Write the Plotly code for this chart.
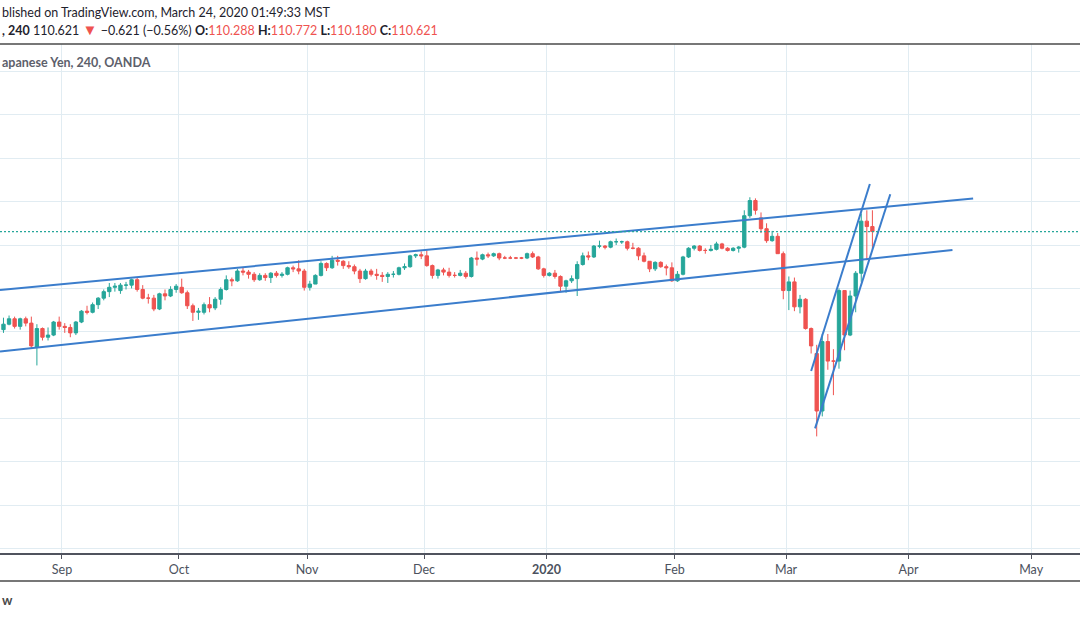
import pandas as pd
import plotly.graph_objects as go

# ---------------- data (USD/JPY, daily OHLC) ----------------
days = pd.bdate_range("2019-08-16", "2020-03-23")

open_ = [
    # Aug
    106.10,106.35,106.60,106.25,106.60,106.40,105.30,106.15,105.75,105.85,106.45,
    # Sep
    106.25,106.20,105.95,106.45,106.95,106.90,107.25,107.55,107.85,108.05,107.90,108.15,108.15,108.40,107.95,107.55,107.55,107.05,107.75,107.65,107.95,
    # Oct
    108.05,107.80,107.20,106.90,106.90,107.25,107.10,107.50,107.95,108.40,108.35,108.80,108.75,108.65,108.40,108.60,108.50,108.70,108.60,108.65,108.95,108.90,108.80,
    # Nov
    108.05,108.20,108.60,109.15,108.95,109.30,109.25,109.05,109.00,108.80,108.45,108.80,108.65,108.60,108.55,108.65,108.65,108.95,109.00,109.50,109.55,
    # Dec
    109.50,109.05,108.60,108.85,108.75,108.60,108.60,108.70,108.55,109.40,109.35,109.55,109.50,109.60,109.40,109.40,109.40,109.40,109.40,109.60,109.45,108.90,
    # Jan
    108.60,108.70,108.55,108.10,108.35,108.45,109.10,109.50,109.45,109.95,109.95,109.90,110.15,110.15,110.15,109.85,109.85,109.50,109.25,108.90,109.20,109.00,108.95,
    # Feb
    108.35,108.65,109.45,109.85,109.95,109.75,109.75,109.80,110.05,109.85,109.75,109.85,109.90,111.35,112.05,111.25,110.75,110.20,110.40,109.60,
    # Mar
    107.90,108.30,107.15,107.50,106.15,105.00,102.35,105.55,104.65,104.65,107.90,105.85,107.65,108.70,111.10,110.85,
]
high = [
    106.65,106.75,106.70,106.65,106.70,106.70,106.35,106.20,106.20,106.50,106.70,
    106.40,106.35,106.50,107.00,107.20,107.35,107.60,107.95,108.25,108.25,108.25,108.30,108.45,108.50,108.15,107.75,107.70,107.80,107.95,108.10,108.20,
    108.45,107.90,107.30,107.10,107.35,107.60,107.60,108.05,108.60,108.50,108.90,108.95,108.85,108.75,108.70,108.70,108.75,108.80,108.75,109.00,109.05,109.30,108.90,
    108.35,108.65,109.25,109.20,109.50,109.50,109.30,109.25,109.10,108.90,108.90,108.90,108.90,108.75,108.75,108.80,109.00,109.15,109.55,109.60,109.70,
    109.75,109.10,108.90,108.95,108.95,108.75,108.85,108.80,109.45,109.70,109.60,109.65,109.65,109.65,109.50,109.50,109.45,109.45,109.65,109.70,109.50,108.95,
    108.75,108.85,108.60,108.40,108.60,109.25,109.65,109.70,110.00,110.20,110.00,110.20,110.30,110.20,110.20,110.10,109.90,109.65,109.25,109.25,109.25,109.10,109.20,
    108.80,109.50,109.90,110.00,110.00,109.85,110.00,110.15,110.10,109.90,109.90,109.95,111.60,112.20,112.15,111.50,111.00,110.65,110.55,109.70,
    108.55,108.50,107.70,107.55,106.20,105.40,105.90,105.90,105.20,108.00,107.90,107.90,108.80,111.45,111.60,111.60,
]
low = [
    105.95,106.30,106.15,106.10,106.25,105.25,104.45,105.60,105.60,105.80,106.10,
    105.95,105.75,105.85,106.40,106.80,106.85,107.05,107.45,107.60,107.85,107.75,107.95,108.00,107.85,107.50,107.30,106.95,107.00,107.45,107.60,107.80,
    107.75,107.05,106.50,106.55,106.80,106.90,107.00,107.25,107.90,108.10,108.30,108.60,108.45,108.30,108.35,108.35,108.25,108.50,108.50,108.60,108.75,108.65,107.90,
    107.90,108.20,108.55,108.80,108.90,109.05,108.90,108.90,108.65,108.25,108.40,108.55,108.40,108.30,108.25,108.50,108.60,108.85,108.95,109.40,109.35,
    109.00,108.45,108.45,108.60,108.50,108.50,108.55,108.45,108.50,109.05,109.30,109.40,109.45,109.30,109.35,109.35,109.35,109.35,109.35,109.40,108.85,108.50,
    108.55,108.45,107.85,107.80,108.25,107.65,109.05,109.30,109.40,109.85,109.80,109.85,110.00,110.05,109.75,109.80,109.30,109.20,108.75,108.80,108.95,108.60,108.30,
    108.30,108.60,109.40,109.75,109.70,109.60,109.70,109.75,109.80,109.70,109.70,109.65,109.85,111.25,111.40,110.55,110.10,110.15,109.60,107.50,
    107.00,106.95,106.85,106.10,105.00,101.18,102.10,104.25,103.08,104.30,105.15,105.80,106.90,108.30,109.30,109.75,
]
close = [
    106.35,106.60,106.25,106.60,106.40,105.35,106.15,105.75,105.85,106.45,106.25,
    106.20,105.95,106.45,106.95,106.90,107.25,107.55,107.85,108.05,108.10,108.15,108.15,108.40,107.95,107.55,107.55,107.05,107.75,107.65,107.95,108.10,
    107.80,107.20,106.90,106.95,107.25,107.10,107.50,107.95,108.40,108.35,108.80,108.75,108.65,108.40,108.60,108.50,108.70,108.60,108.65,108.95,108.90,108.80,108.05,
    108.20,108.60,109.15,108.95,109.30,109.25,109.05,109.00,108.80,108.45,108.80,108.65,108.60,108.55,108.65,108.65,108.95,109.00,109.50,109.55,109.50,
    109.05,108.60,108.85,108.75,108.60,108.60,108.70,108.55,109.40,109.35,109.55,109.50,109.60,109.40,109.40,109.40,109.40,109.40,109.60,109.45,108.90,108.60,
    108.70,108.55,108.10,108.35,108.45,109.10,109.50,109.45,109.95,109.95,109.90,110.15,110.15,110.15,109.85,109.85,109.50,109.25,108.90,109.20,109.00,108.95,108.35,
    108.65,109.45,109.85,109.95,109.75,109.75,109.80,110.05,109.85,109.75,109.85,109.90,111.35,112.05,111.60,110.75,110.20,110.40,109.60,107.90,
    108.30,107.15,107.50,106.15,105.35,102.35,105.55,104.65,104.65,107.90,105.85,107.65,108.70,111.10,110.85,110.62,
]

# drawn trend lines (date, price)
upper_x = ["2019-08-15 21:00", "2020-04-16 14:00"]
upper_y = [107.93, 112.14]
lower_x = ["2019-08-15 21:00", "2020-04-10 21:00"]
lower_y = [105.09, 109.77]
wedge_a_x = ["2020-03-06 12:00", "2020-03-23 01:00"]
wedge_a_y = [104.19, 112.81]
wedge_b_x = ["2020-03-09 05:00", "2020-03-26 17:00"]
wedge_b_y = [101.55, 112.34]

month_ticks = ["2019-09-02", "2019-10-01", "2019-11-01", "2019-12-02", "2020-01-01",
               "2020-02-03", "2020-03-02", "2020-04-01", "2020-05-01"]
month_labels = ["Sep", "Oct", "Nov", "Dec", "<b>2020</b>", "Feb", "Mar", "Apr", "May"]

header_1 = "blished on TradingView.com, March 24, 2020 01:49:33 MST"
symbol_tail = ", 240"
last_price = "110.621"
change = "\u22120.621 (\u22120.56%)"
ohlc_labels = ["O:", "H:", "L:", "C:"]
ohlc_values = ["110.288", "110.772", "110.180", "110.621"]
pane_title = "apanese Yen, 240, OANDA"

assert len(days) == len(open_) == len(high) == len(low) == len(close)

# ---------------- styling ----------------
UP = "#26a69a"
DOWN = "#ef5350"
LINE_BLUE = "#3b7dcc"
GRID = "#e1ecf2"
DARK = "#50535e"
FONT = "Lato"

x_days = days + pd.Timedelta(hours=12)

fig = go.Figure()
fig.add_trace(go.Candlestick(
    x=x_days, open=open_, high=high, low=low, close=close,
    increasing=dict(line=dict(color=UP, width=1), fillcolor=UP),
    decreasing=dict(line=dict(color=DOWN, width=1), fillcolor=DOWN),
    whiskerwidth=0, showlegend=False, hoverinfo="skip",
))
for lx, ly in [(upper_x, upper_y), (lower_x, lower_y), (wedge_a_x, wedge_a_y), (wedge_b_x, wedge_b_y)]:
    fig.add_trace(go.Scatter(x=lx, y=ly, mode="lines", line=dict(color=LINE_BLUE, width=2),
                             showlegend=False, hoverinfo="skip"))

# current price dotted line
fig.add_shape(type="line", xref="paper", x0=0, x1=1, yref="y", y0=close[-1], y1=close[-1],
              line=dict(color=UP, width=1.3, dash="2px,2px"))
# top separator & bottom border
fig.add_shape(type="line", xref="paper", x0=0, x1=1, yref="paper", y0=1, y1=1,
              line=dict(color="#4a4a4a", width=1.5))
fig.add_shape(type="line", xref="paper", x0=0, x1=1, yref="paper", y0=-0.055, y1=-0.055,
              line=dict(color="#4a4a4a", width=1.5))

line2 = (f"<b>{symbol_tail}</b> {last_price} <span style='color:{DOWN};font-size:15px'>\u25bc</span> {change} "
         + " ".join(f"<b>{l}</b><span style='color:{DOWN}'>{v}</span>"
                    for l, v in zip(ohlc_labels, ohlc_values)))

fig.add_annotation(text=header_1, xref="paper", yref="paper", x=0, y=1.062,
                   xanchor="left", yanchor="middle", showarrow=False,
                   font=dict(family=FONT, size=12.5, color="#1e222d"))
fig.add_annotation(text=line2, xref="paper", yref="paper", x=0, y=1.029,
                   xanchor="left", yanchor="middle", showarrow=False,
                   font=dict(family=FONT, size=12.5, color="#1e222d"))
fig.add_annotation(text=f"<b>{pane_title}</b>", xref="paper", yref="paper", x=0, y=0.9646,
                   xanchor="left", yanchor="middle", showarrow=False,
                   font=dict(family=FONT, size=12.5, color="#5d606b"))
fig.add_annotation(text="<b>w</b>", xref="paper", yref="paper", x=0, y=-0.0923,
                   xanchor="left", yanchor="middle", showarrow=False,
                   font=dict(family=FONT, size=13, color="#4a4a4a"))

fig.update_layout(
    width=1080, height=618,
    margin=dict(l=0, r=0, t=44, b=65),
    paper_bgcolor="white", plot_bgcolor="white",
    boxgap=0.15,
    showlegend=False,
    xaxis=dict(
        type="date",
        range=["2019-08-15 21:00", "2020-05-13 18:30"],
        rangebreaks=[dict(bounds=["sat", "mon"])],
        rangeslider=dict(visible=False),
        tickmode="array", tickvals=month_ticks, ticktext=month_labels,
        showgrid=True, gridcolor=GRID, gridwidth=1,
        showline=True, linecolor=DARK, linewidth=1.5,
        ticks="outside", ticklen=4, tickcolor=DARK, tickwidth=1,
        tickfont=dict(family=FONT, size=12.5, color="#4c525e"),
        zeroline=False, fixedrange=True,
    ),
    yaxis=dict(
        range=[95.806, 119.263], tick0=0, dtick=2,
        showgrid=True, gridcolor=GRID, gridwidth=1,
        showticklabels=False, zeroline=False, showline=False, fixedrange=True,
    ),
)

fig.write_html("out.html", config={"displayModeBar": False},
               post_script="document.body.style.margin='0';document.body.style.overflow='hidden';")
